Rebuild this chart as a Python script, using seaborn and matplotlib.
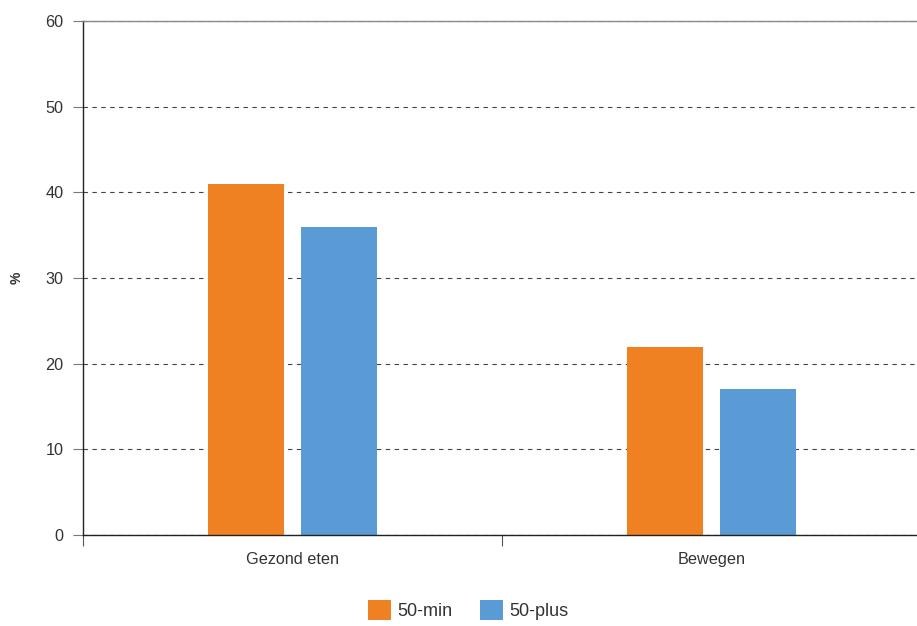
import matplotlib
matplotlib.use("Agg")
import matplotlib.pyplot as plt
import seaborn as sns
import pandas as pd
from matplotlib.patches import Patch

categories = ["Gezond eten", "Bewegen"]
groups = ["50-min", "50-plus"]
values_50min = [41, 22]
values_50plus = [36, 17]
yticks = [0, 10, 20, 30, 40, 50, 60]

colors = {"50-min": "#F08122", "50-plus": "#5B9BD5"}

df = pd.DataFrame({
    "categorie": categories * 2,
    "groep": [groups[0]] * len(categories) + [groups[1]] * len(categories),
    "waarde": values_50min + values_50plus,
})

sns.set_style("white")
plt.rcParams["font.family"] = ["Liberation Sans", "DejaVu Sans"]

fig = plt.figure(figsize=(9.17, 6.26), dpi=100)
ax = fig.add_axes([83 / 917, 91 / 626, 838 / 917, 514 / 626])

sns.barplot(data=df, x="categorie", y="waarde", hue="groep", order=categories,
            hue_order=groups, palette=colors, width=0.446, gap=0.19,
            saturation=1, ax=ax, legend=False, linewidth=0)

ax.set_xlim(-0.5, 1.5)
ax.set_ylim(0, 60)
ax.set_yticks(yticks)
ax.set_yticklabels([str(t) for t in yticks], fontsize=11.7, color="#333333")
ax.tick_params(axis="y", length=7, width=0.8, color="#777777", pad=7, left=True)

ax.set_xticks(range(len(categories)))
ax.set_xticklabels(categories, fontsize=11.7, color="#333333")
ax.tick_params(axis="x", which="major", length=0, pad=12)
ax.set_xticks([-0.5, 0.5, 1.5], minor=True)
ax.tick_params(axis="x", which="minor", length=8, width=0.8, color="#555555", bottom=True, direction="out")

ax.set_xlabel("")
ax.set_ylabel("%", fontsize=10, color="#333333", fontweight="bold")
ax.yaxis.set_label_coords((24 - 83) / 838, 0.5)

ax.yaxis.grid(True, linestyle=(0, (4, 4)), color="#444444", linewidth=0.8)
ax.set_axisbelow(True)

for side in ["left", "bottom"]:
    ax.spines[side].set_visible(True)
    ax.spines[side].set_color("#222222")
    ax.spines[side].set_linewidth(1.0)
ax.spines["top"].set_visible(True)
ax.spines["top"].set_color("#888888")
ax.spines["top"].set_linewidth(1.0)
ax.spines["right"].set_visible(False)

handles = [Patch(facecolor=colors[g], edgecolor="none", label=g) for g in groups]
fig.legend(handles=handles, loc="lower center", bbox_to_anchor=(468 / 917, -0.016),
           ncol=2, frameon=False, fontsize=13, handlelength=1.3, handleheight=1.3,
           handletextpad=0.35, columnspacing=1.5, labelcolor="#333333")

fig.savefig("out.png", dpi=100)
